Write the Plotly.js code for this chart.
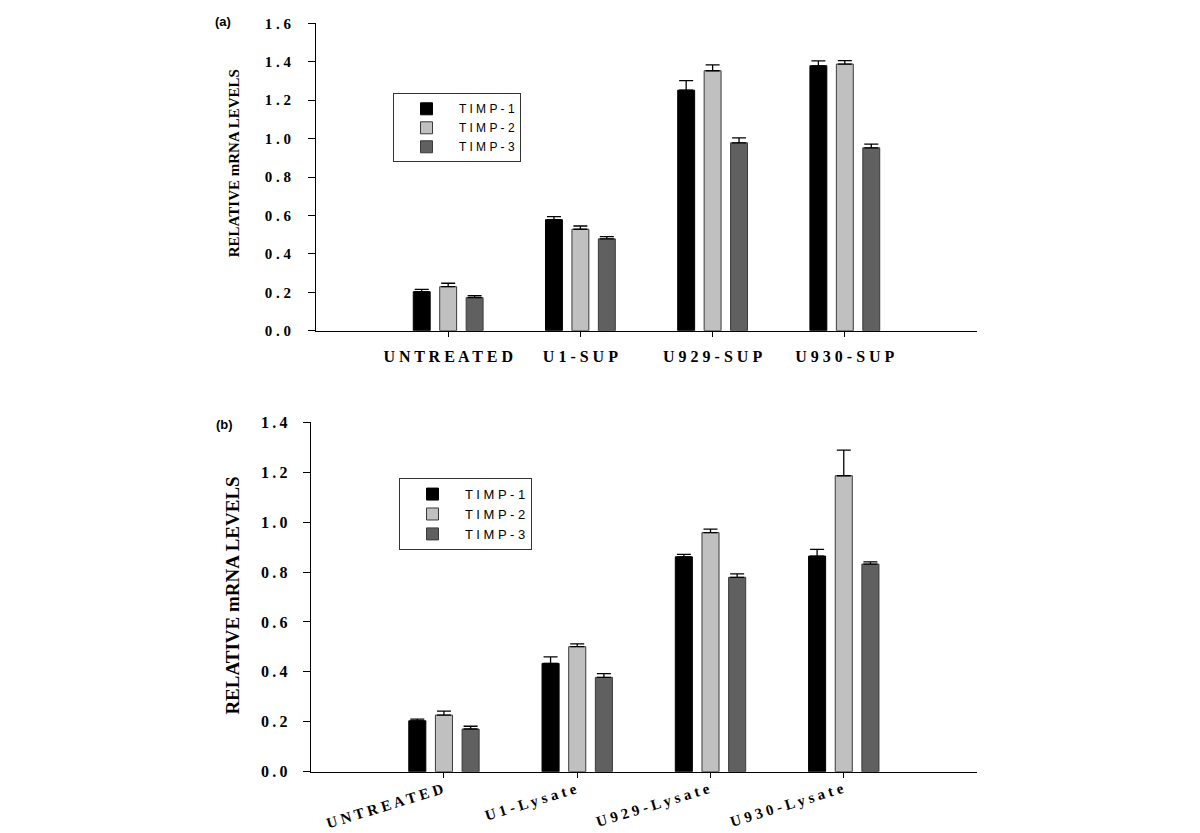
<!DOCTYPE html>
<html>
<head>
<meta charset="utf-8">
<script src="https://cdn.plot.ly/plotly-3.0.1.min.js"></script>
<style>
  html, body { margin: 0; padding: 0; background: #ffffff; }
  #chart { width: 1200px; height: 833px; }
</style>
</head>
<body>
<div id="chart"></div>
<script>
// categories
const groupsA = ['UNTREATED', 'U1-SUP', 'U929-SUP', 'U930-SUP'];
const groupsB = ['UNTREATED', 'U1-Lysate', 'U929-Lysate', 'U930-Lysate'];
const seriesNames = ['TIMP-1', 'TIMP-2', 'TIMP-3'];

// panel (a) - supernatants
const timp1A = [0.203, 0.578, 1.252, 1.379];
const timp2A = [0.229, 0.528, 1.353, 1.388];
const timp3A = [0.172, 0.478, 0.978, 0.952];
const err1A = [0.012, 0.016, 0.050, 0.026];
const err2A = [0.018, 0.017, 0.031, 0.018];
const err3A = [0.010, 0.012, 0.026, 0.019];

// panel (b) - lysates
const timp1B = [0.204, 0.434, 0.861, 0.864];
const timp2B = [0.227, 0.501, 0.958, 1.186];
const timp3B = [0.171, 0.378, 0.779, 0.832];
const err1B = [0.007, 0.026, 0.010, 0.027];
const err2B = [0.016, 0.011, 0.014, 0.103];
const err3B = [0.011, 0.015, 0.014, 0.009];

// y tick values
const yTicksA = [0, 0.2, 0.4, 0.6, 0.8, 1.0, 1.2, 1.4, 1.6];
const yTicksB = [0, 0.2, 0.4, 0.6, 0.8, 1.0, 1.2, 1.4];

const barColors = ['#000000', '#c0c0c0', '#606060'];
const serif = '"Liberation Serif", "Times New Roman", serif';
const sans = '"Liberation Sans", Arial, sans-serif';

// letter-spaced text, the way the original figure sets it
const spaced = (s, sep) => s.split('').join(sep);

function barTrace(x, y, err, i, xa, ya, legend) {
    return {
        type: 'bar',
        x: x,
        y: y,
        name: spaced(seriesNames[i], ' '),
        xaxis: xa,
        yaxis: ya,
        legend: legend,
        marker: {
            color: barColors[i],
            line: { color: i === 0 ? '#000000' : '#3a3a3a', width: 1 }
        },
        error_y: {
            type: 'data',
            array: err,
            arrayminus: err.map(() => 0),
            symmetric: false,
            color: '#000000',
            thickness: 1.3,
            width: 7
        },
        hoverinfo: 'skip'
    };
}

const data = [
    barTrace(groupsA, timp1A, err1A, 0, 'x', 'y', 'legend'),
    barTrace(groupsA, timp2A, err2A, 1, 'x', 'y', 'legend'),
    barTrace(groupsA, timp3A, err3A, 2, 'x', 'y', 'legend'),
    barTrace(groupsB, timp1B, err1B, 0, 'x2', 'y2', 'legend2'),
    barTrace(groupsB, timp2B, err2B, 1, 'x2', 'y2', 'legend2'),
    barTrace(groupsB, timp3B, err3B, 2, 'x2', 'y2', 'legend2')
];

const xBase = {
    type: 'category',
    range: [-1, 4],
    showline: true,
    linecolor: '#000000',
    linewidth: 1,
    ticks: 'outside',
    ticklen: 5,
    tickcolor: '#000000',
    showgrid: false,
    zeroline: false,
    fixedrange: true
};

const yBase = {
    showline: true,
    linecolor: '#000000',
    linewidth: 1,
    ticks: 'outside',
    ticklen: 7,
    tickcolor: '#000000',
    showgrid: false,
    zeroline: false,
    fixedrange: true
};

const legendBase = {
    xanchor: 'left',
    yanchor: 'top',
    bgcolor: '#ffffff',
    bordercolor: '#333333',
    borderwidth: 1,
    itemwidth: 55,
    entrywidth: 80,
    traceorder: 'normal'
};

// slanted category labels of panel (b), hung from the tick marks
const slantedLabels = groupsB.map(g => ({
    text: spaced(g, ' '),
    xref: 'x2', yref: 'y2', x: g, y: 0,
    xanchor: 'right', yanchor: 'top',
    xshift: 4, yshift: -6,
    textangle: -17, showarrow: false,
    font: { family: serif, size: 15, color: '#000000', weight: 'bold' }
}));

const layout = {
    width: 1200,
    height: 833,
    margin: { t: 0, r: 0, b: 0, l: 0 },
    paper_bgcolor: '#ffffff',
    plot_bgcolor: '#ffffff',
    barmode: 'group',
    bargap: 0.4,
    bargroupgap: 0.36,
    showlegend: true,
    xaxis: {
        ...xBase,
        domain: [0.2633, 0.8142],
        anchor: 'y',
        tickvals: groupsA,
        ticktext: groupsA.map(g => spaced(g, ' ')),
        tickfont: { family: serif, size: 16, color: '#000000', weight: 'bold' },
        ticklabelstandoff: 6
    },
    yaxis: {
        ...yBase,
        domain: [0.603, 0.972],
        anchor: 'x',
        range: [0, 1.6],
        tickvals: yTicksA,
        ticktext: yTicksA.map(v => spaced(v.toFixed(1), ' ')),
        tickfont: { family: serif, size: 15, color: '#000000', weight: 'bold' },
        ticklabelstandoff: 14
    },
    xaxis2: {
        ...xBase,
        domain: [0.2589, 0.8142],
        anchor: 'y2',
        tickvals: groupsB,
        showticklabels: false
    },
    yaxis2: {
        ...yBase,
        domain: [0.0736, 0.493],
        anchor: 'x2',
        range: [0, 1.4],
        tickvals: yTicksB,
        ticktext: yTicksB.map(v => spaced(v.toFixed(1), '\u2009')),
        tickfont: { family: serif, size: 16, color: '#000000', weight: 'bold' },
        ticklabelstandoff: 12
    },
    legend: { ...legendBase, x: 0.3275, y: 0.888, font: { family: sans, size: 12, color: '#000000' } },
    legend2: { ...legendBase, x: 0.3325, y: 0.426, font: { family: sans, size: 13, color: '#000000' } },
    annotations: [
        {
            text: '(a)', xref: 'paper', yref: 'paper', x: 0.186, y: 0.974,
            xanchor: 'center', yanchor: 'middle',
            showarrow: false, font: { family: sans, size: 13, color: '#000000', weight: 'bold' }
        },
        {
            text: '(b)', xref: 'paper', yref: 'paper', x: 0.187, y: 0.49,
            xanchor: 'center', yanchor: 'middle',
            showarrow: false, font: { family: sans, size: 13, color: '#000000', weight: 'bold' }
        },
        {
            text: 'RELATIVE mRNA LEVELS', xref: 'paper', yref: 'paper', x: 0.195, y: 0.804,
            xanchor: 'center', yanchor: 'middle',
            textangle: -90, showarrow: false,
            font: { family: serif, size: 15, color: '#000000', weight: 'bold' }
        },
        {
            text: 'RELATIVE mRNA LEVELS', xref: 'paper', yref: 'paper', x: 0.193, y: 0.2845,
            xanchor: 'center', yanchor: 'middle',
            textangle: -90, showarrow: false,
            font: { family: serif, size: 19, color: '#000000', weight: 'bold' }
        },
        ...slantedLabels
    ]
};

Plotly.newPlot('chart', data, layout, { displayModeBar: false, staticPlot: true });
</script>
</body>
</html>
